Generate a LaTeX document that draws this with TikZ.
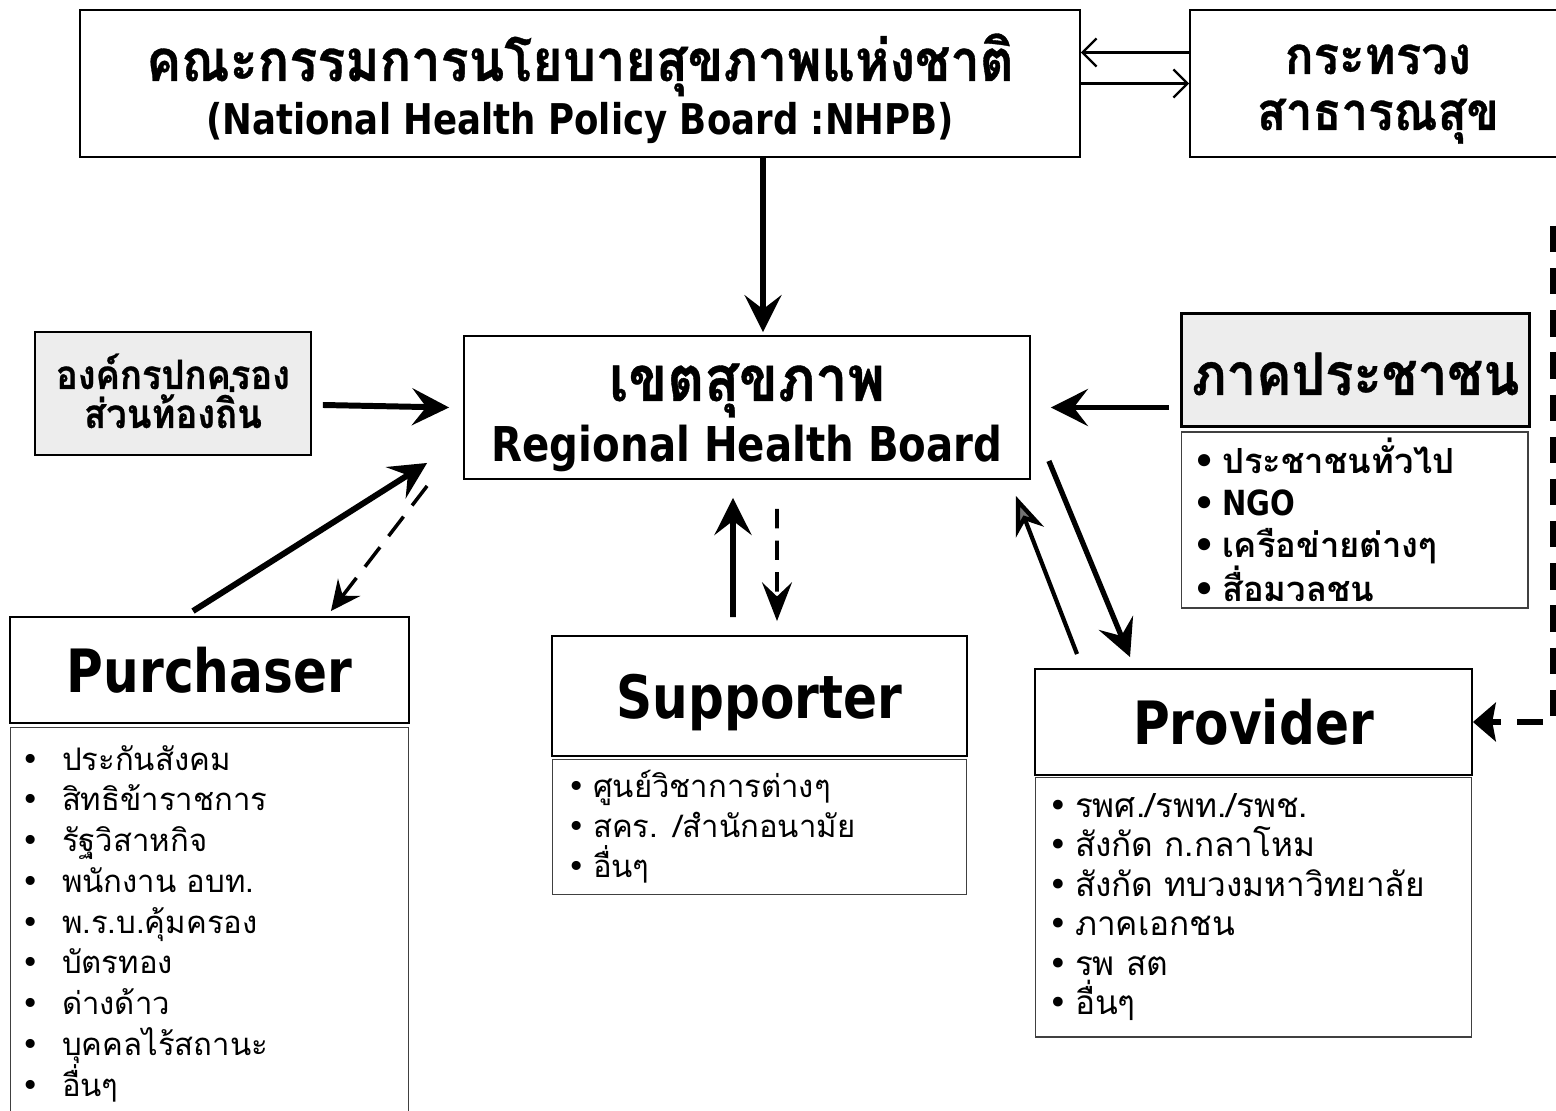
\documentclass[tikz,border=0pt]{standalone}
\usepackage{fontspec}
\usepackage{tikz}
\usetikzlibrary{positioning,arrows.meta}

\newfontfamily\thai[Script=Thai]{Loma}
\newfontfamily\thaih[Script=Thai, FakeStretch=0.9, BoldFeatures={FakeBold=0.6}]{Loma}
\newfontfamily\lat[FakeStretch=0.84]{DejaVu Sans}
\newfontfamily\symf{DejaVu Sans}

\newcommand\pitem[2]{\makebox[#1][l]{\symf\textbullet}#2}

\begin{document}
\begin{tikzpicture}[x=0.02cm, y=-0.02cm,
    titlebox/.style={draw, line width=1.1pt, inner sep=0pt, align=center},
    linetext/.style={inner sep=0pt, anchor=base},
    listbox/.style={draw=black!75, line width=0.6pt, inner ysep=0pt, align=left},
    shaded/.style={fill=black!7},
    bigarrow/.style={line width=3.4pt, -{Stealth[length=21pt,width=21pt,inset=8pt]}},
    thinarrow/.style={line width=1.3pt, -{Straight Barb[length=8pt,width=16pt]}},
    dasharrow/.style={line width=2pt, dash pattern=on 14pt off 8pt, -{Stealth[length=17pt,width=16pt,inset=6pt]}}]
    \useasboundingbox (0,0) rectangle (1556,1111);
    \clip (0,0) rectangle (1556,1111);

    % Top row
    \node[titlebox, minimum width=20cm, minimum height=2.94cm] (nhpb) at (580,83.5) {};
    \node[linetext, font=\thaih\bfseries\fontsize{33}{35}\selectfont] (nhpbT) at (580,81) {คณะกรรมการนโยบายสุขภาพแห่งชาติ};
    \node[linetext, font=\lat\bfseries\fontsize{24.1}{26}\selectfont] (nhpbE) at (580,135) {(National Health Policy Board :NHPB)};

    \node[titlebox, minimum width=7.52cm, minimum height=2.94cm] (moph) at (1378,83.5) {};
    \node[linetext, font=\thaih\bfseries\fontsize{30}{32}\selectfont] (mophT1) at (1378,74) {กระทรวง};
    \node[linetext, font=\thaih\bfseries\fontsize{30}{32}\selectfont] (mophT2) at (1378,130) {สาธารณสุข};

    % Middle row
    \node[titlebox, minimum width=11.32cm, minimum height=2.86cm] (rhb) at (747,407.5) {};
    \node[linetext, font=\thaih\bfseries\fontsize{36}{38}\selectfont] (rhbT) at (747,401) {เขตสุขภาพ};
    \node[linetext, font=\lat\bfseries\fontsize{27.3}{30}\selectfont] (rhbE) at (747,462) {Regional Health Board};

    \node[titlebox, shaded, minimum width=5.52cm, minimum height=2.46cm] (local) at (173,393.5) {};
    \node[linetext, font=\thaih\bfseries\fontsize{23}{25}\selectfont] (localT1) at (173,389) {องค์กรปกครอง};
    \node[linetext, font=\thaih\bfseries\fontsize{23}{25}\selectfont] (localT2) at (173,428) {ส่วนท้องถิ่น};

    \node[titlebox, shaded, line width=1.7pt, minimum width=6.98cm, minimum height=2.28cm] (people) at (1355.5,370) {};
    \node[linetext, font=\thaih\bfseries\fontsize{33.4}{36}\selectfont] (peopleT) at (1355.5,395) {ภาคประชาชน};
    \node[listbox, inner xsep=0.24cm, text width=6.46cm, minimum height=3.52cm,
          font=\thai\bfseries\fontsize{19.7}{23.9}\selectfont] (peopleL) at (1354.5,520)
      {\pitem{0.58cm}{ประชาชนทั่วไป}\\
       \pitem{0.58cm}{{\lat\bfseries NGO}}\\
       \pitem{0.58cm}{เครือข่ายต่างๆ}\\
       \pitem{0.58cm}{สื่อมวลชน}};

    % Bottom row
    \node[titlebox, text depth=0pt, minimum width=7.98cm, minimum height=2.12cm,
          font=\lat\bfseries\fontsize{34}{36}\selectfont] (pur) at (209.5,670) {Purchaser};
    \node[listbox, inner xsep=0.22cm, text width=7.54cm, minimum height=7.86cm,
          font=\thai\fontsize{17.7}{23.2}\selectfont] (purL) at (209.5,923.5)
      {\pitem{0.82cm}{ประกันสังคม}\\
       \pitem{0.82cm}{สิทธิข้าราชการ}\\
       \pitem{0.82cm}{รัฐวิสาหกิจ}\\
       \pitem{0.82cm}{พนักงาน อบท.}\\
       \pitem{0.82cm}{พ.ร.บ.คุ้มครอง}\\
       \pitem{0.82cm}{บัตรทอง}\\
       \pitem{0.82cm}{ด่างด้าว}\\
       \pitem{0.82cm}{บุคคลไร้สถานะ}\\
       \pitem{0.82cm}{อื่นๆ}};

    \node[titlebox, text depth=0pt, minimum width=8.3cm, minimum height=2.4cm,
          font=\lat\bfseries\fontsize{34}{36}\selectfont] (sup) at (759.5,696) {Supporter};
    \node[listbox, inner xsep=0.3cm, text width=7.7cm, minimum height=2.7cm,
          font=\thai\fontsize{17.7}{22.8}\selectfont] (supL) at (759.5,827)
      {\pitem{0.52cm}{ศูนย์วิชาการต่างๆ}\\
       \pitem{0.52cm}{สคร. /สำนักอนามัย}\\
       \pitem{0.52cm}{อื่นๆ}};

    \node[titlebox, text depth=0pt, minimum width=8.74cm, minimum height=2.12cm,
          font=\lat\bfseries\fontsize{34}{36}\selectfont] (prov) at (1253.5,722) {Provider};
    \node[listbox, inner xsep=0.26cm, text width=8.22cm, minimum height=5.2cm,
          font=\thai\fontsize{19}{22.5}\selectfont] (provL) at (1253.5,907)
      {\pitem{0.54cm}{รพศ./รพท./รพช.}\\
       \pitem{0.54cm}{สังกัด ก.กลาโหม}\\
       \pitem{0.54cm}{สังกัด ทบวงมหาวิทยาลัย}\\
       \pitem{0.54cm}{ภาคเอกชน}\\
       \pitem{0.54cm}{รพ สต}\\
       \pitem{0.54cm}{อื่นๆ}};

    % Arrows between the boards
    \draw[thinarrow] ([yshift=0.62cm]moph.west) -- ([yshift=0.62cm]nhpb.east);
    \draw[thinarrow] (nhpb.east) -- (moph.west);
    \draw[bigarrow, line width=3pt] ([xshift=0.32cm]rhb.north |- nhpb.south) -- ([xshift=0.32cm, yshift=0.06cm]rhb.north);

    % Arrows into the regional board
    \draw[bigarrow] ([shift={(0.22cm,-0.23cm)}]local.east) -- ([xshift=-0.28cm]rhb.west);
    \draw[bigarrow] ([xshift=-0.22cm]people.west |- rhb.east) -- ([xshift=0.4cm]rhb.east);

    % Purchaser
    \draw[bigarrow] ([shift={(-0.33cm,0.1cm)}]pur.north) -- ([shift={(-0.72cm,0.34cm)}]rhb.south west);
    \draw[dasharrow] ([shift={(-0.72cm,-0.12cm)}]rhb.south west) -- ([shift={(-1.58cm,0.1cm)}]pur.north east);

    % Supporter
    \draw[bigarrow] ([shift={(-0.53cm,0.36cm)}]sup.north) -- ([shift={(-0.28cm,-0.36cm)}]rhb.south);
    \draw[dasharrow, dash pattern=on 11pt off 7pt, -{Stealth[length=22pt,width=17pt,inset=8pt]}]
      ([shift={(0.6cm,-0.58cm)}]rhb.south) -- ([shift={(0.35cm,0.28cm)}]sup.north);

    % Provider
    \draw[bigarrow, line width=3pt] ([shift={(0.36cm,0.38cm)}]rhb.south east) -- ([shift={(-2.47cm,0.22cm)}]prov.north);
    \draw[line width=2.4pt, -{Stealth[length=22pt,width=17pt,inset=7pt,fill=black!55]}]
      ([shift={(-3.53cm,0.28cm)}]prov.north) -- ([shift={(-0.3cm,-0.32cm)}]rhb.south east);
    \draw[line width=3pt, dash pattern=on 15pt off 9pt, -{Stealth[length=13pt,width=22pt,inset=2pt]}]
      ([shift={(3.5cm,-1.36cm)}]moph.south) |- (prov.east);
\end{tikzpicture}
\end{document}
